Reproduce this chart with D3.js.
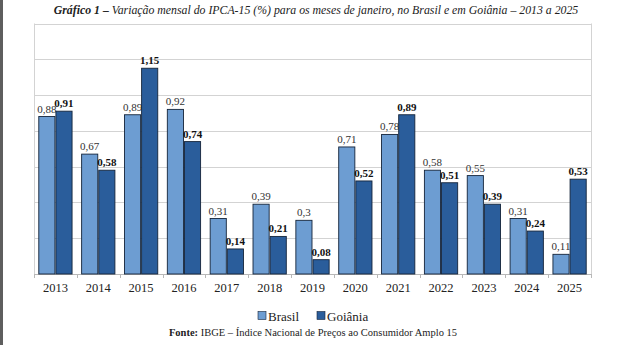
<!DOCTYPE html>
<html><head><meta charset="utf-8">
<script src="https://cdn.jsdelivr.net/npm/d3@7"></script>
<style>body{margin:0;background:#fff}svg{display:block}</style>
</head><body>
<svg id="c" width="620" height="345"></svg>
<script>
const years = ["2013","2014","2015","2016","2017","2018","2019","2020","2021","2022","2023","2024","2025"];
const brasil = [0.88,0.67,0.89,0.92,0.31,0.39,0.3,0.71,0.78,0.58,0.55,0.31,0.11];
const goiania = [0.91,0.58,1.15,0.74,0.14,0.21,0.08,0.52,0.89,0.51,0.39,0.24,0.53];
const seriesNames = ["Brasil","Goiânia"];
const yTicks = [0,0.2,0.4,0.6,0.8,1.0,1.2,1.4];

const colors = ["#6d9dd2","#2a5d9b"];
const svg = d3.select("#c");
const L=34, R=591, T=23.5, B=274;
const serif = "'Liberation Serif', 'Times New Roman', serif";

svg.append("rect").attr("x",0).attr("y",0).attr("width",3).attr("height",345).attr("fill","#5e5e5e");

const x = d3.scaleBand().domain(years).range([L,R]).paddingInner(0.2).paddingOuter(0.1);
const x1 = d3.scaleBand().domain(seriesNames).range([0,x.bandwidth()]);
const y = d3.scaleLinear().domain([0,1.4]).range([B,T]);

// gridlines
svg.append("g").selectAll("line").data(yTicks.slice(1)).join("line")
  .attr("x1",L).attr("x2",R).attr("y1",d=>Math.round(y(d))+0.5).attr("y2",d=>Math.round(y(d))+0.5)
  .attr("stroke","#d3d3d3").attr("stroke-width",1);
svg.append("line").attr("x1",L+0.5).attr("x2",L+0.5).attr("y1",T).attr("y2",B).attr("stroke","#d3d3d3");
svg.append("line").attr("x1",R+0.5).attr("x2",R+0.5).attr("y1",T).attr("y2",B).attr("stroke","#d3d3d3");

// x axis
const bounds = years.map(d=>x(d)-x.step()*0.1).concat([R]);
svg.append("line").attr("x1",L).attr("x2",R).attr("y1",B+0.5).attr("y2",B+0.5).attr("stroke","#b8b8b8");
svg.append("g").selectAll("line").data(bounds).join("line")
  .attr("x1",d=>Math.round(d)+0.5).attr("x2",d=>Math.round(d)+0.5).attr("y1",B).attr("y2",B+4)
  .attr("stroke","#b8b8b8");
svg.append("g").selectAll("text").data(years).join("text")
  .attr("x",d=>x(d)+x.bandwidth()/2).attr("y",292).attr("text-anchor","middle")
  .style("font-family",serif).attr("font-size",12.5).attr("fill","#222").text(d=>d);

const data = [brasil, goiania];
const fmt = v => String(v).replace(".",",");
data.forEach((vals,si)=>{
  const g = svg.append("g");
  g.selectAll("rect").data(years).join("rect")
    .attr("x",(d,i)=>x(d)+x1(seriesNames[si])+0.5)
    .attr("y",(d,i)=>y(vals[i]))
    .attr("width",x1.bandwidth()-1)
    .attr("height",(d,i)=>B-y(vals[i]))
    .attr("fill",colors[si]).attr("stroke","#14243a").attr("stroke-width",0.9);
  g.selectAll("text").data(years).join("text")
    .attr("x",(d,i)=>x(d)+x1(seriesNames[si])+x1.bandwidth()/2)
    .attr("y",(d,i)=>y(vals[i])-4)
    .attr("text-anchor","middle")
    .style("font-family",serif).attr("font-size",11)
    .attr("font-weight",si===1?"bold":"normal")
    .attr("fill",si===1?"#111":"#333")
    .text((d,i)=>fmt(vals[i]));
});

// title
const t = svg.append("text").attr("x",316).attr("y",14).attr("text-anchor","middle")
  .style("font-family",serif).attr("font-size",11.8).attr("font-style","italic").attr("fill","#222");
t.append("tspan").attr("font-weight","bold").text("Gráfico 1 – ");
t.append("tspan").text("Variação mensal do IPCA-15 (%) para os meses de janeiro, no Brasil e em Goiânia – 2013 a 2025");

// legend
const lg = svg.append("g").attr("transform","translate(258,310)");
seriesNames.forEach((n,i)=>{
  const gx = i===0?0:59;
  lg.append("rect").attr("x",gx).attr("y",1.5).attr("width",8).attr("height",8)
    .attr("fill",colors[i]).attr("stroke","#14243a").attr("stroke-width",0.6);
  lg.append("text").attr("x",gx+10).attr("y",10.5).style("font-family",serif).attr("font-size",13)
    .attr("fill","#222").text(n);
});

// source
const s = svg.append("text").attr("x",313).attr("y",336).attr("text-anchor","middle")
  .style("font-family",serif).attr("font-size",10.5).attr("fill","#222");
s.append("tspan").attr("font-weight","bold").text("Fonte: ");
s.append("tspan").text("IBGE – Índice Nacional de Preços ao Consumidor Amplo 15");
</script>
</body></html>
